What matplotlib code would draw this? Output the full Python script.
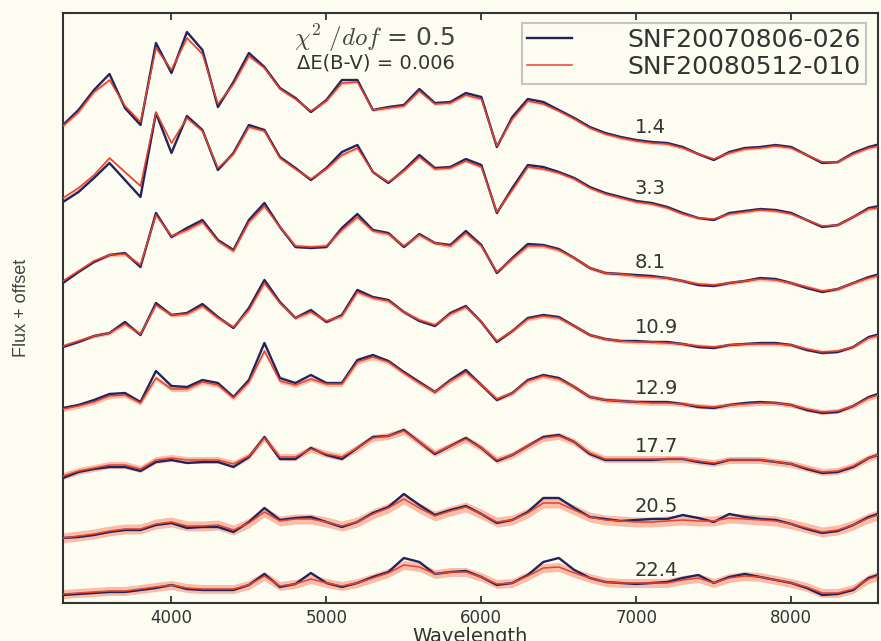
import matplotlib.pyplot as plt
import numpy as np

# wavelength grid (Angstrom), one sample every 100 A
wave = np.arange(3300, 8700, 100)

phases = ["1.4", "3.3", "8.1", "10.9", "12.9", "17.7", "20.5", "22.4"]
names = ["SNF20070806-026", "SNF20080512-010"]
chi2_dof = 0.5
delta_ebv = 0.006

# flux + offset, SNF20070806-026 (data)
data_flux = [
    [478, 493, 513, 529, 495, 478, 560, 530, 571, 553, 496, 521, 550, 536, 515, 505, 491, 503, 523, 523,
     493, 496, 498, 514, 500, 501, 510, 506, 456, 486, 504, 501, 493, 485, 476, 470, 466, 463, 461, 460,
     456, 449, 443, 451, 455, 456, 458, 456, 448, 440, 441, 450, 456, 460],
    [401, 411, 425, 440, 423, 406, 490, 450, 487, 473, 433, 450, 478, 473, 446, 435, 423, 435, 451, 458,
     431, 420, 433, 448, 435, 436, 444, 438, 390, 415, 438, 436, 431, 425, 416, 410, 406, 402, 400, 396,
     390, 385, 383, 390, 392, 394, 393, 390, 383, 376, 378, 386, 395, 398],
    [320, 331, 341, 348, 350, 336, 390, 366, 375, 383, 363, 353, 383, 400, 376, 356, 355, 356, 375, 389,
     373, 370, 356, 369, 360, 358, 372, 358, 330, 345, 359, 358, 354, 345, 335, 330, 329, 328, 327, 325,
     322, 318, 317, 320, 322, 325, 324, 320, 315, 311, 314, 320, 326, 330],
    [256, 261, 267, 270, 281, 268, 300, 288, 290, 299, 286, 275, 295, 323, 301, 285, 293, 281, 288, 313,
     306, 303, 291, 282, 277, 290, 297, 281, 261, 272, 285, 288, 286, 277, 268, 264, 262, 262, 261, 261,
     259, 256, 255, 258, 259, 260, 260, 258, 253, 250, 251, 256, 266, 270],
    [195, 198, 203, 209, 210, 201, 232, 217, 216, 223, 220, 206, 223, 260, 225, 220, 228, 220, 220, 243,
     248, 242, 231, 221, 211, 223, 233, 218, 203, 210, 223, 228, 225, 216, 206, 203, 202, 201, 201, 201,
     199, 196, 195, 198, 200, 201, 200, 198, 193, 190, 191, 197, 206, 211],
    [125, 131, 134, 136, 136, 132, 141, 143, 140, 141, 141, 136, 146, 166, 144, 144, 155, 148, 144, 155,
     166, 167, 173, 161, 149, 157, 165, 155, 142, 148, 157, 166, 168, 161, 149, 143, 143, 143, 143, 144,
     144, 141, 139, 143, 143, 143, 141, 139, 134, 130, 131, 136, 145, 150],
    [65, 66, 68, 71, 73, 73, 78, 80, 75, 76, 76, 71, 81, 95, 83, 85, 86, 81, 76, 81,
     90, 96, 109, 98, 88, 93, 97, 89, 80, 83, 91, 105, 105, 95, 86, 84, 82, 83, 84, 84,
     88, 85, 81, 89, 86, 84, 83, 79, 74, 70, 72, 78, 86, 91],
    [8, 9, 10, 11, 11, 13, 15, 18, 14, 13, 13, 13, 18, 29, 16, 19, 30, 20, 16, 20,
     26, 31, 45, 41, 29, 31, 32, 26, 18, 20, 28, 41, 45, 33, 25, 21, 20, 19, 20, 21,
     25, 28, 20, 26, 29, 26, 23, 20, 15, 8, 9, 13, 25, 30],
]

# flux + offset, SNF20080512-010 (model)
model_flux = [
    [477, 491, 511, 523, 497, 481, 555, 533, 565, 549, 499, 519, 547, 535, 514, 504, 492, 502, 520, 521,
     493, 495, 497, 512, 499, 500, 508, 504, 457, 484, 502, 499, 492, 484, 475, 469, 465, 462, 460, 459,
     455, 449, 444, 450, 454, 455, 457, 455, 448, 441, 441, 449, 455, 458],
    [405, 415, 428, 445, 431, 417, 491, 460, 485, 472, 435, 449, 476, 472, 445, 434, 424, 434, 448, 455,
     431, 421, 432, 446, 434, 435, 442, 436, 391, 413, 436, 434, 430, 424, 415, 409, 405, 401, 399, 395,
     389, 385, 384, 389, 391, 393, 392, 389, 383, 377, 378, 386, 394, 396],
    [322, 332, 342, 348, 349, 338, 388, 367, 373, 381, 362, 352, 381, 397, 376, 357, 356, 357, 373, 386,
     372, 369, 357, 368, 360, 357, 370, 357, 331, 344, 357, 357, 353, 345, 335, 330, 329, 327, 326, 325,
     322, 319, 318, 320, 322, 324, 323, 320, 316, 312, 314, 320, 325, 329],
    [257, 262, 267, 270, 279, 269, 298, 288, 289, 297, 285, 276, 293, 320, 300, 285, 291, 282, 287, 311,
     305, 302, 291, 283, 278, 289, 296, 281, 262, 272, 284, 287, 285, 277, 268, 264, 262, 261, 261, 260,
     259, 257, 256, 258, 259, 259, 259, 258, 254, 251, 252, 256, 265, 269],
    [194, 197, 201, 207, 208, 200, 225, 214, 214, 221, 218, 205, 221, 252, 222, 218, 224, 219, 219, 241,
     246, 241, 230, 220, 211, 222, 231, 218, 204, 210, 222, 227, 224, 216, 206, 203, 202, 201, 200, 200,
     199, 197, 196, 198, 199, 200, 200, 198, 194, 191, 192, 197, 205, 210],
    [127, 132, 135, 138, 138, 134, 143, 145, 143, 143, 143, 139, 147, 165, 146, 146, 154, 149, 146, 155,
     165, 167, 172, 161, 150, 157, 164, 155, 143, 148, 157, 165, 167, 161, 150, 144, 144, 144, 144, 144,
     144, 142, 140, 143, 143, 143, 141, 139, 135, 131, 132, 137, 145, 150],
    [65, 67, 69, 72, 74, 74, 79, 81, 77, 77, 78, 73, 80, 91, 82, 84, 84, 81, 77, 81,
     89, 95, 104, 95, 87, 92, 96, 89, 81, 83, 90, 100, 100, 93, 86, 83, 82, 81, 81, 82,
     83, 82, 82, 85, 84, 83, 82, 79, 75, 71, 73, 78, 85, 90],
    [9, 10, 11, 12, 12, 14, 16, 18, 15, 14, 14, 14, 18, 27, 17, 19, 24, 20, 17, 20,
     25, 30, 38, 36, 29, 31, 31, 26, 19, 20, 27, 35, 36, 30, 25, 21, 20, 20, 20, 20,
     23, 25, 20, 25, 27, 26, 23, 20, 16, 10, 10, 14, 24, 29],
]

# model uncertainty (same units)
model_err = [1.5, 1.5, 2, 2, 2.5, 3.5, 5, 4.5]

plt.rcParams['mathtext.fontset'] = 'cm'
bg = '#fcfcf0'
fig = plt.figure(figsize=(8.81, 6.41), dpi=100, facecolor=bg)
ax = fig.add_axes([0.0715, 0.0593, 0.9251, 0.9204], facecolor=bg)

for i in range(len(phases)):
    d = np.array(data_flux[i])
    m = np.array(model_flux[i])
    ax.fill_between(wave, m - model_err[i], m + model_err[i], color='#f5a38c', alpha=0.7, lw=0, zorder=1)
    ax.plot(wave, d, color='#23235e', lw=1.7, zorder=2, label=names[0] if i == 0 else None)
    ax.plot(wave, m, color='#e8412c', lw=1.1, zorder=3, label=names[1] if i == 0 else None)
    # phase label above the spectrum at 7000 A
    ax.text(6990, d[list(wave).index(7000)] + 13, phases[i], fontsize=14, color='#333333',
            ha='left', va='center')

ax.text(0.481, 0.958, r'$\chi^2\ /dof$ = ' + str(chi2_dof), transform=ax.transAxes,
        ha='right', va='center', fontsize=18, color='#444444')
ax.text(0.481, 0.916, 'ΔE(B-V) = ' + str(delta_ebv), transform=ax.transAxes,
        ha='right', va='center', fontsize=14, color='#333333')

ax.set_xlim(3300, 8560)
ax.set_ylim(0, 590)
ax.set_xticks([4000, 5000, 6000, 7000, 8000])
ax.set_yticks([])
ax.tick_params(axis='x', direction='in', top=True, length=5, width=1.3, labelsize=12,
               labelcolor='#333333', color='#333333', pad=4)
for s in ax.spines.values():
    s.set_color('#333333')
    s.set_linewidth(1.5)

ax.set_xlabel('Wavelength', fontsize=14, color='#333333', labelpad=0)
ax.set_ylabel('Flux + offset', fontsize=13, color='#444444', labelpad=24, family='Liberation Sans')

leg = ax.legend(loc='upper right', bbox_to_anchor=(0.985, 0.983), borderaxespad=0, fontsize=18,
                fancybox=False, edgecolor='#c4c4c4', facecolor=bg, framealpha=1,
                handlelength=1.8, handletextpad=2.2, labelspacing=0.1, borderpad=0.2,
                labelcolor='#333333')
leg.get_frame().set_linewidth(1.5)

fig.savefig('out.png', dpi=100, facecolor=bg)
